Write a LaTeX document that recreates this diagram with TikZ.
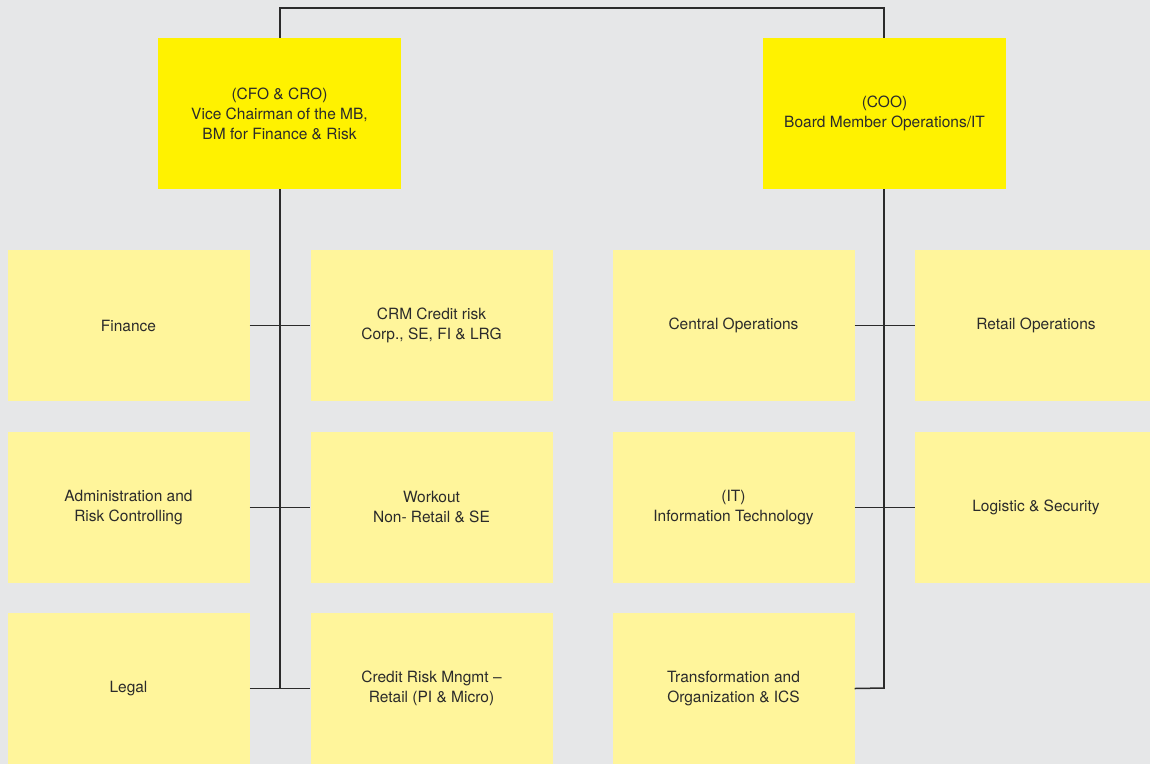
\documentclass[tikz,border=0pt]{standalone}
\usepackage{fontspec}
\setmainfont{TeX Gyre Heros}
\usepackage{xcolor}
\usepackage{tikz}

\definecolor{bgray}{HTML}{E6E7E8}
\definecolor{boardyel}{HTML}{FFF200}
\definecolor{deptyel}{HTML}{FFF59B}
\definecolor{linegray}{HTML}{2B2B2B}

\tikzset{
  board/.style={fill=boardyel, minimum width=243pt, minimum height=151pt, align=center, inner sep=0pt, text=linegray},
  dept/.style={fill=deptyel, minimum width=242pt, minimum height=151pt, align=center, inner sep=0pt, text=linegray},
  link/.style={draw=linegray, line width=1.5pt}
}

\begin{document}
\begin{tikzpicture}[x=1pt, y=-1pt, font=\fontsize{15.5}{20}\selectfont]
\useasboundingbox (0,0) rectangle (1150,764);
\clip (0,0) rectangle (1150,764);
\fill[bgray] (0,0) rectangle (1150,764);

% lines behind the boxes
\coordinate (topl) at (280,8);
\coordinate (topr) at (884,8);
\coordinate (botl) at (280,688);
\coordinate (botr) at (884,688);
\draw[link] (botl) -- (topl) -- (topr) -- (botr);

% board
\node[board] (cfo) at (279.5,113.5) {(CFO \& CRO)\\Vice Chairman of the MB,\\BM for Finance \& Risk};
\node[board] (coo) at (884.5,113.5) {(COO)\\Board Member Operations/IT};

% departments left
\node[dept] (fin) at (128.5,325.5) {Finance};
\node[dept] (crm) at (431.5,325.5) {CRM Credit risk\\Corp., SE, FI \& LRG};
\node[dept] (adm) at (128.5,507.5) {Administration and\\Risk Controlling};
\node[dept] (work) at (431.5,507.5) {Workout\\Non- Retail \& SE};
\node[dept] (legal) at (128.5,688.5) {Legal};
\node[dept] (crrm) at (431.5,688.5) {Credit Risk Mngmt --\\Retail (PI \& Micro)};

% departments right
\node[dept] (cops) at (733.5,325.5) {Central Operations};
\node[dept] (rops) at (1036,325.5) {Retail Operations};
\node[dept] (it) at (733.5,507.5) {(IT)\\Information Technology};
\node[dept] (logsec) at (1036,507.5) {Logistic \& Security};
\node[dept] (trans) at (733.5,688.5) {Transformation and\\Organization \& ICS};

\draw[link] (fin.east) -- (crm.west);
\draw[link] (adm.east) -- (work.west);
\draw[link] (legal.east) -- (crrm.west);
\draw[link] (cops.east) -- (rops.west);
\draw[link] (it.east) -- (logsec.west);
\draw[link] (trans.east) -- (botr) -- ++(0,-10);
\end{tikzpicture}
\end{document}
